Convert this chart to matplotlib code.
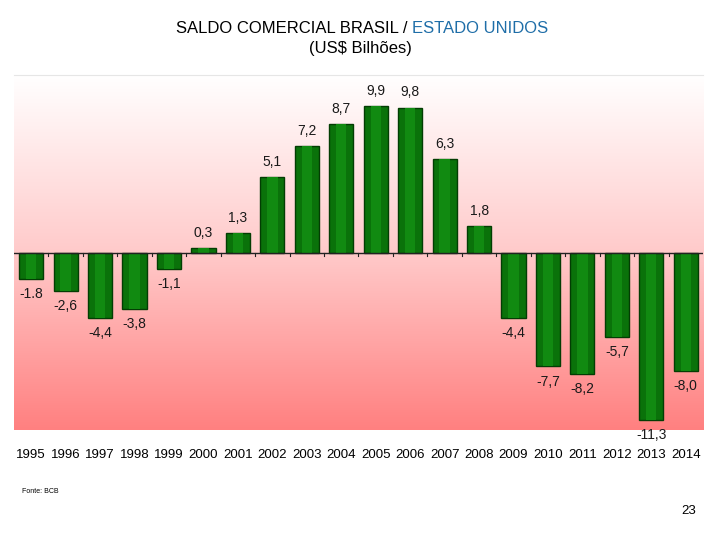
import matplotlib
matplotlib.use("Agg")
import matplotlib.pyplot as plt
import numpy as np
from matplotlib.colors import LinearSegmentedColormap

years = [str(y) for y in range(1995, 2015)]
saldo = [-1.8, -2.6, -4.4, -3.8, -1.1, 0.3, 1.3, 5.1, 7.2, 8.7,
         9.9, 9.8, 6.3, 1.8, -4.4, -7.7, -8.2, -5.7, -11.3, -8.0]
value_labels = ["-1.8", "-2,6", "-4,4", "-3,8", "-1,1", "0,3", "1,3", "5,1", "7,2", "8,7",
                "9,9", "9,8", "6,3", "1,8", "-4,4", "-7,7", "-8,2", "-5,7", "-11,3", "-8,0"]

NARROW = ["Liberation Sans Narrow", "Liberation Sans", "DejaVu Sans"]
plt.rcParams["font.family"] = ["Liberation Sans", "DejaVu Sans"]

fig = plt.figure(figsize=(7.2, 5.4), dpi=100, facecolor="white")
ax = fig.add_axes([0.0194, 0.2037, 0.9570, 0.6573])

# background gradient: white at top -> salmon at bottom
cmap = LinearSegmentedColormap.from_list(
    "bg", [(0.0, "#FF8080"), (0.5, "#FFCACA"), (1.0, "#FFFFFF")])
grad = np.linspace(0, 1, 256).reshape(-1, 1)
ax.imshow(grad, aspect="auto", cmap=cmap, origin="lower",
          extent=(-0.5, 19.5, -12, 12), zorder=0)

x = np.arange(len(years))
ax.bar(x, saldo, width=0.7, color="#0A720A", edgecolor="#033D03",
       linewidth=1.0, zorder=2)
# lighter centre stripe to hint at the cylinder shading
ax.bar(x, saldo, width=0.3, color="#118A11", linewidth=0, zorder=3)

for xi, v, lab in zip(x, saldo, value_labels):
    off = 0.55 if v > 0 else -0.55
    ax.text(xi, v + off, lab, ha="center", va="bottom" if v > 0 else "top",
            fontsize=10, family=NARROW, color="#1A1A1A", zorder=4, clip_on=False)

ax.axhline(0, color="#222222", linewidth=1.0, zorder=3)
for b in np.arange(0.5, 19.5, 1.0):
    ax.plot([b, b], [0, -0.25], color="#222222", linewidth=0.8, zorder=3)

ax.set_xlim(-0.5, 19.5)
ax.set_ylim(-12, 12)
ax.set_xticks(x)
ax.set_xticklabels(years, fontsize=9.5, family=NARROW)
ax.tick_params(axis="x", length=0, pad=14)
ax.set_yticks([])
for side in ["left", "right", "bottom"]:
    ax.spines[side].set_visible(False)
ax.spines["top"].set_color("#E6E6E6")

# two-colour title: black part, then blue part right after it
t1 = fig.text(0.2444, 0.948, "SALDO COMERCIAL BRASIL / ", ha="left", va="center",
              fontsize=12, color="black")
ax.annotate("ESTADO UNIDOS", xy=(1, 0.5), xycoords=t1, ha="left", va="center",
            fontsize=12, color="#1F6EA8", annotation_clip=False)
fig.text(0.5, 0.910, r"(US\$ Bilhões)", ha="center", va="center", fontsize=12)
fig.text(0.031, 0.087, "Fonte: BCB", fontsize=5, family=NARROW)
fig.text(0.967, 0.053, "23", fontsize=9.5, ha="right", va="center")

fig.savefig("out.png", dpi=100)
